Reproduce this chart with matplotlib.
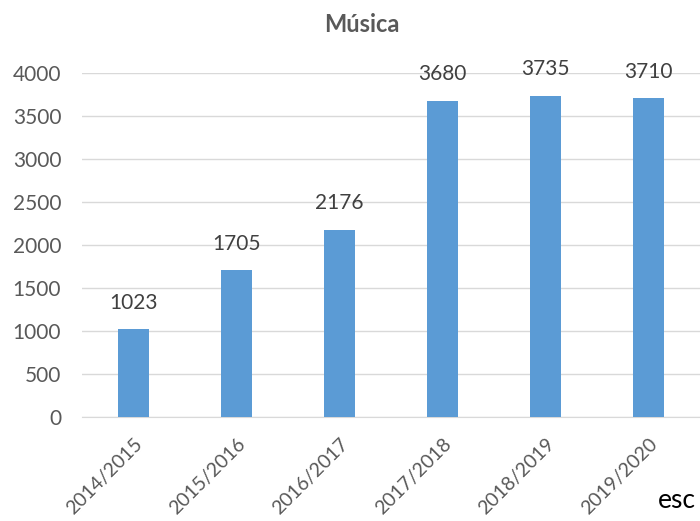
import matplotlib
matplotlib.use("Agg")
import matplotlib.pyplot as plt
import numpy as np

plt.rcParams['font.family'] = ['Lato', 'DejaVu Sans']

years = ["2014/2015", "2015/2016", "2016/2017", "2017/2018", "2018/2019", "2019/2020"]
values = [1023, 1705, 2176, 3680, 3735, 3710]

fig = plt.figure(figsize=(7, 5.21), dpi=100)
ax = fig.add_axes([82 / 700, 104 / 521, 618 / 700, 344 / 521])

x = np.arange(len(years))
ax.bar(x, values, width=0.31, color="#5b9bd5", zorder=3)
for xi, v in zip(x, values):
    ax.annotate(str(v), (xi, v), xytext=(0, 19), textcoords="offset points",
                ha="center", va="center", fontsize=15, color="#404040",
                annotation_clip=False)

ax.set_xlim(-0.5, len(years) - 0.5)
ax.set_ylim(0, 4000)
ax.set_yticks(np.arange(0, 4001, 500))
ax.grid(axis="y", color="#d9d9d9", linewidth=1, zorder=0)
for s in ["top", "right", "left"]:
    ax.spines[s].set_visible(False)
ax.spines["bottom"].set_color("#d9d9d9")
ax.tick_params(axis="both", length=0, labelsize=15, labelcolor="#595959")
ax.tick_params(axis="y", pad=15)
ax.set_xticks(x)
ax.set_xticklabels(years, rotation=45, ha="right", rotation_mode="anchor",
                   fontsize=14)
ax.tick_params(axis="x", pad=13)

fig.text(362 / 700, 1 - 25 / 521, "Música", ha="center", va="center",
         fontsize=17, fontweight="bold", color="#595959")
fig.text(658 / 700, 1 - 501 / 521, "esc", ha="left", va="center",
         fontsize=19, color="black")

fig.savefig("out.png", dpi=100)
